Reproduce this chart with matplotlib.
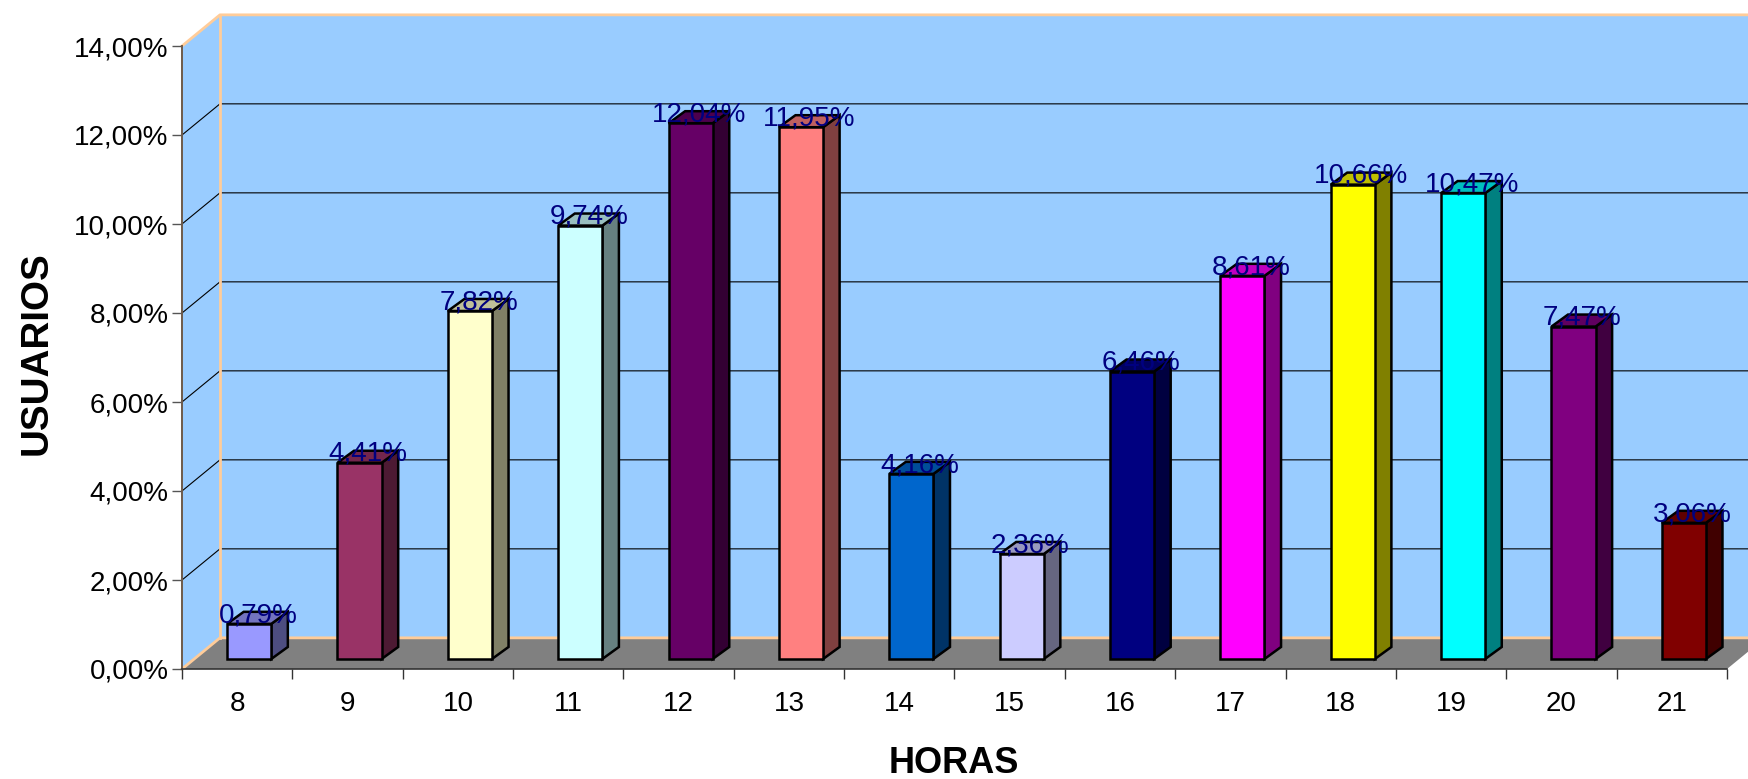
import matplotlib
matplotlib.use("Agg")
import matplotlib.pyplot as plt
from matplotlib.colors import to_rgb
from matplotlib.patches import Polygon

plt.rcParams["font.family"] = ["Liberation Sans", "DejaVu Sans"]

horas = ["8", "9", "10", "11", "12", "13", "14", "15", "16", "17", "18", "19", "20", "21"]
usuarios = [0.79, 4.41, 7.82, 9.74, 12.04, 11.95, 4.16, 2.36, 6.46, 8.61, 10.66, 10.47, 7.47, 3.06]
etiquetas = ["0,79%", "4,41%", "7,82%", "9,74%", "12,04%", "11,95%", "4,16%",
             "2,36%", "6,46%", "8,61%", "10,66%", "10,47%", "7,47%", "3,06%"]
colores = ["#9999FF", "#993366", "#FFFFCC", "#CCFFFF", "#660066", "#FF8080", "#0066CC",
           "#CCCCFF", "#000080", "#FF00FF", "#FFFF00", "#00FFFF", "#800080", "#800000"]
y_ticks = [0, 2, 4, 6, 8, 10, 12, 14]

W, H = 1749, 779
ORANGE = "#FFCC99"
WALL = "#99CCFF"
FLOOR = "#808080"

# depth of the fake 3d box, in data units
DX, DY = 0.344, 0.70
# bars sit partly inside the box
BX, BY = 0.109, 0.225
BW = 0.2
BDX, BDY = 0.15, 0.27

fig = plt.figure(figsize=(W / 100, H / 100), dpi=100, facecolor="white")
ax = fig.add_axes([182 / W, 1 - 669 / H, (1727 - 182) / W, (669 - 46) / H])
ax.patch.set_visible(False)

x0, x1 = -0.5, 13.5
y1 = 14


def poly(pts, fc, ec="none", lw=0, z=1):
    ax.add_patch(Polygon(pts, closed=True, facecolor=fc, edgecolor=ec, linewidth=lw,
                         zorder=z, clip_on=False, joinstyle="miter"))


def shade(color, k):
    return tuple(c * k for c in to_rgb(color))


# walls and floor
poly([(x0 + DX, DY), (x1 + 2, DY), (x1 + 2, y1 + DY), (x0 + DX, y1 + DY)], WALL)
poly([(x0, 0), (x0 + DX, DY), (x0 + DX, y1 + DY), (x0, y1)], WALL)
poly([(x0, 0), (x1, 0), (x1 + 2 * DX, 2 * DY), (x1 + 2, DY), (x0 + DX, DY)], FLOOR)

for v in y_ticks[1:-1]:
    ax.plot([x0, x0 + DX, x1 + 2], [v, v + DY, v + DY], color="black", lw=0.8,
            zorder=1.2, clip_on=False)

ax.plot([x0, x0 + DX, x1 + 2], [y1, y1 + DY, y1 + DY], color=ORANGE, lw=2, zorder=1.3, clip_on=False)
ax.plot([x0, x0 + DX, x1 + 2], [0, DY, DY], color=ORANGE, lw=2, zorder=1.3, clip_on=False)
ax.plot([x0 + DX, x0 + DX], [DY, y1 + DY], color=ORANGE, lw=2, zorder=1.3, clip_on=False)

# bars
for i, (v, c) in enumerate(zip(usuarios, colores)):
    l, r = i + BX - BW, i + BX + BW
    b, t = BY, v + BY
    z = 3 + i * 0.01
    poly([(r, b), (r + BDX, b + BDY), (r + BDX, t + BDY), (r, t)], shade(c, 0.5), "black", 1.8, z)
    poly([(l, t), (r, t), (r + BDX, t + BDY), (l + BDX, t + BDY)], shade(c, 0.75), "black", 1.8, z)
    poly([(l, b), (r, b), (r, t), (l, t)], c, "black", 1.8, z)

for i, (v, s) in enumerate(zip(usuarios, etiquetas)):
    ax.text(i + BX + BDX / 2 + 0.003, v + BY + 0.04, s, color="#000080", fontsize=20,
            ha="center", va="baseline", zorder=5, clip_on=False)

ax.set_xlim(x0, x1)
ax.set_ylim(0, y1)

ax.set_yticks(y_ticks)
ax.set_yticklabels([f"{v},00%" for v in y_ticks], fontsize=20)
ax.set_xticks([i - 0.5 for i in range(len(horas) + 1)])
ax.set_xticklabels([])
ax.set_xticks(range(len(horas)), horas, minor=True, fontsize=20)
ax.tick_params(axis="y", length=7.2, width=1.0, pad=2.5, color="#555555")
ax.tick_params(axis="x", which="major", length=7.2, width=1.0, color="#333333")
ax.tick_params(axis="x", which="minor", length=0, pad=15.5)

for side in ["top", "right"]:
    ax.spines[side].set_visible(False)
ax.spines["left"].set_linewidth(1.4)
ax.spines["left"].set_color("#6E5A4A")
ax.spines["bottom"].set_linewidth(1.2)
ax.spines["bottom"].set_color("#333333")
ax.spines["left"].set_zorder(2)
ax.spines["bottom"].set_zorder(2)

fig.text(954 / W, 1 - 773 / H, "HORAS", fontsize=26, fontweight="bold", ha="center", va="baseline")
fig.text(36.5 / W, 1 - 353 / H, "USUARIOS", fontsize=27.8, fontweight="bold", rotation=90,
         ha="center", va="center")

fig.savefig("out.png", dpi=100)
